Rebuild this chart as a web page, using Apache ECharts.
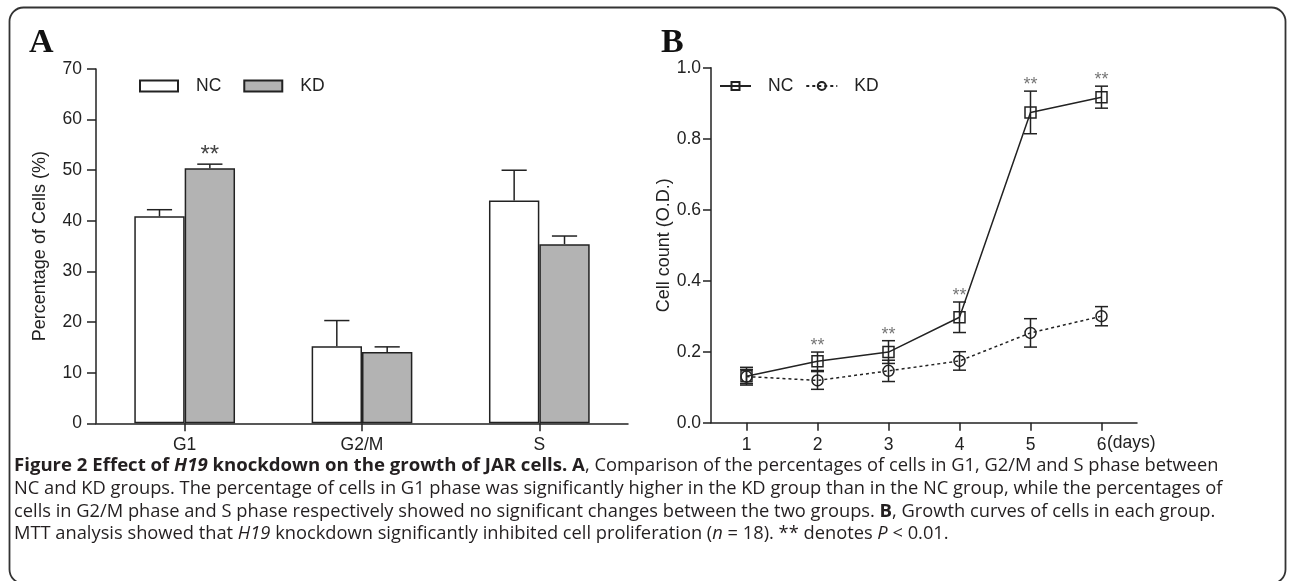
<!DOCTYPE html>
<html><head><meta charset="utf-8">
<script src="https://cdn.jsdelivr.net/npm/echarts@6/dist/echarts.min.js"></script>
<style>html,body{margin:0;padding:0;background:#fff}#c{width:1290px;height:581px}</style>
</head><body><div id="c"></div>
<script>
// ---- Panel A data: cell cycle distribution (%) ----
const phases = ['G1', 'G2/M', 'S'];
const pctNC = [40.9, 15.2, 44.0];
const pctNCErr = [1.3, 5.1, 6.0];
const pctKD = [50.4, 14.1, 35.4];
const pctKDErr = [0.8, 1.0, 1.6];
const pctSigNC = ['', '', ''];
const pctSigKD = ['**', '', ''];

// ---- Panel B data: growth curve (O.D.) ----
const days = ['1', '2', '3', '4', '5', '6'];
const odNC = [0.131, 0.173, 0.199, 0.297, 0.874, 0.917];
const odNCErr = [0.025, 0.026, 0.032, 0.043, 0.060, 0.031];
const odKD = [0.130, 0.119, 0.146, 0.174, 0.253, 0.300];
const odKDErr = [0.020, 0.025, 0.030, 0.026, 0.040, 0.027];
const odSig = ['', '**', '**', '**', '**', '**'];

const INK = '#222';
const AX = 'Liberation Sans, Arial, sans-serif';

const chart = echarts.init(document.getElementById('c'), null, {renderer: 'canvas'});

function errBarA(sign, vals, errs, sig) {
  return {
    type: 'custom', name: 'errA', xAxisIndex: 0, yAxisIndex: 0, z: 5, silent: true,
    data: vals.map((v, i) => [i, v, v + errs[i]]),
    renderItem(params, api) {
      const i = api.value(0);
      const base = api.coord([i, api.value(1)]);
      const top = api.coord([i, api.value(2)]);
      const band = api.size([1, 0])[0];
      const cx = base[0] + sign * band * 0.142;
      const half = band * 0.071;
      const st = {stroke: INK, lineWidth: 1.5};
      const ch = [
        {type: 'line', shape: {x1: cx, y1: base[1], x2: cx, y2: top[1]}, style: st},
        {type: 'line', shape: {x1: cx - half, y1: top[1], x2: cx + half, y2: top[1]}, style: st}
      ];
      const s = sig[params.dataIndex];
      if (s) ch.push({type: 'text', style: {text: s, x: cx, y: top[1] + 3, align: 'center', verticalAlign: 'bottom', fontSize: 24, fontFamily: AX, fill: '#444'}});
      return {type: 'group', children: ch};
    }
  };
}

function errBarB(vals, errs, sig) {
  return {
    type: 'custom', name: 'errB', xAxisIndex: 1, yAxisIndex: 1, z: 5, silent: true,
    data: vals.map((v, i) => [i, v - errs[i], v + errs[i]]),
    renderItem(params, api) {
      const i = api.value(0);
      const lo = api.coord([i, api.value(1)]);
      const hi = api.coord([i, api.value(2)]);
      const cx = lo[0];
      const half = 6.5;
      const st = {stroke: INK, lineWidth: 1.5};
      const ch = [
        {type: 'line', shape: {x1: cx, y1: lo[1], x2: cx, y2: hi[1]}, style: st},
        {type: 'line', shape: {x1: cx - half, y1: hi[1], x2: cx + half, y2: hi[1]}, style: st},
        {type: 'line', shape: {x1: cx - half, y1: lo[1], x2: cx + half, y2: lo[1]}, style: st}
      ];
      const s = sig ? sig[params.dataIndex] : '';
      if (s) ch.push({type: 'text', style: {text: s, x: cx, y: hi[1] + 3, align: 'center', verticalAlign: 'bottom', fontSize: 18, fontFamily: AX, fill: '#777'}});
      return {type: 'group', children: ch};
    }
  };
}

const axisLineSt = {show: true, lineStyle: {color: INK, width: 1.5}};
const tickSt = {show: true, length: 8, lineStyle: {color: INK, width: 1.5}};
const labelSt = {color: INK, fontSize: 17.5, fontFamily: AX};

const CAP = 'Open Sans, Noto Sans, sans-serif';
const CS = 18.3;
const CC = '#231f20';
const capRich = {
  r: {fontFamily: CAP, fontSize: CS, fill: CC},
  b: {fontFamily: CAP, fontSize: CS + 0.3, fontWeight: 'bold', fill: CC},
  bi: {fontFamily: CAP, fontSize: CS + 0.3, fontWeight: 'bold', fontStyle: 'italic', fill: CC},
  i: {fontFamily: CAP, fontSize: CS, fontStyle: 'italic', fill: CC}
};
const capLines = [
  '{b|Figure 2 Effect of }{bi|H19}{b| knockdown on the growth of JAR cells. A}{r|, Comparison of the percentages of cells in G1, G2/M and S phase between}',
  '{r|NC and KD groups. The percentage of cells in G1 phase was significantly higher in the KD group than in the NC group, while the percentages of}',
  '{r|cells in G2/M phase and S phase respectively showed no significant changes between the two groups. }{b|B}{r|, Growth curves of cells in each group.}',
  '{r|MTT analysis showed that }{i|H19}{r| knockdown significantly inhibited cell proliferation (}{i|n}{r| = 18). ** denotes }{i|P}{r| < 0.01.}'
];
const capY = [466, 489, 511.5, 534];

const SERIF = 'Liberation Serif, Times New Roman, serif';
const graphics = [
  {type: 'rect', shape: {x: 9.5, y: 7.5, width: 1276, height: 576, r: 14}, style: {fill: 'none', stroke: '#333', lineWidth: 1.8}, z: 0},
  {type: 'text', style: {text: 'A', x: 29, y: 60, verticalAlign: 'bottom', fontFamily: SERIF, fontWeight: 'bold', fontSize: 34, fill: '#111'}},
  {type: 'text', style: {text: 'B', x: 661, y: 60, verticalAlign: 'bottom', fontFamily: SERIF, fontWeight: 'bold', fontSize: 34, fill: '#111'}}
].concat(capLines.map((t, k) => ({type: 'text', style: {text: t, x: 14, y: capY[k], verticalAlign: 'middle', rich: capRich, fontFamily: CAP, fontSize: CS}})));

chart.setOption({
  animation: false,
  backgroundColor: '#fff',
  grid: [
    {left: 96, top: 69, width: 532, height: 354.3},
    {left: 711, top: 67.7, width: 426, height: 355}
  ],
  legend: [
    {data: ['NC', 'KD'], left: 134, top: 72, itemWidth: 38, itemHeight: 11, itemGap: 22, icon: 'rect',
     textStyle: {color: INK, fontSize: 17.5, fontFamily: AX, padding: [0, 0, 0, 13]}, selectedMode: false},
    {data: ['NC-B', 'KD-B'], left: 714, top: 72, itemWidth: 31, itemHeight: 10, itemGap: 12,
     formatter: n => n.replace('-B', ''),
     textStyle: {color: INK, fontSize: 17.5, fontFamily: AX, padding: [0, 0, 0, 12]}, selectedMode: false}
  ],
  xAxis: [
    {type: 'category', gridIndex: 0, data: phases, axisLine: axisLineSt,
     axisTick: Object.assign({alignWithLabel: true}, tickSt), axisLabel: Object.assign({margin: 13}, labelSt)},
    {type: 'category', gridIndex: 1, data: days, axisLine: axisLineSt,
     axisTick: Object.assign({alignWithLabel: true}, tickSt), axisLabel: Object.assign({margin: 13}, labelSt),
     name: '(days)', nameLocation: 'end', nameGap: -30, nameMoveOverlap: false,
     nameTextStyle: {color: INK, fontSize: 17.5, fontFamily: AX, verticalAlign: 'top', padding: [11, 0, 0, 0]}}
  ],
  yAxis: [
    {type: 'value', gridIndex: 0, min: 0, max: 70, interval: 10, splitLine: {show: false},
     axisLine: axisLineSt, axisTick: Object.assign({}, tickSt, {length: 9}), axisLabel: Object.assign({margin: 14}, labelSt),
     name: 'Percentage of Cells (%)', nameLocation: 'middle', nameGap: 47,
     nameTextStyle: {color: INK, fontSize: 18, fontFamily: AX}},
    {type: 'value', gridIndex: 1, min: 0, max: 1, interval: 0.2, splitLine: {show: false},
     axisLine: axisLineSt, axisTick: tickSt, axisLabel: Object.assign({margin: 10, formatter: v => v.toFixed(1)}, labelSt),
     name: 'Cell count (O.D.)', nameLocation: 'middle', nameGap: 33,
     nameTextStyle: {color: INK, fontSize: 18, fontFamily: AX}}
  ],
  series: [
    {type: 'bar', name: 'NC', xAxisIndex: 0, yAxisIndex: 0, data: pctNC, barWidth: '28.4%', barGap: '0%',
     itemStyle: {color: '#ffffff', borderColor: INK, borderWidth: 1.5}},
    {type: 'bar', name: 'KD', xAxisIndex: 0, yAxisIndex: 0, data: pctKD, barWidth: '28.4%', barGap: '0%',
     itemStyle: {color: '#b3b3b3', borderColor: INK, borderWidth: 1.5}},
    errBarA(-1, pctNC, pctNCErr, pctSigNC),
    errBarA(1, pctKD, pctKDErr, pctSigKD),
    {type: 'line', name: 'NC-B', xAxisIndex: 1, yAxisIndex: 1, data: odNC, symbol: 'rect', symbolSize: 11,
     showAllSymbol: true, z: 4,
     lineStyle: {color: INK, width: 1.5}, itemStyle: {color: 'rgba(255,255,255,0)', borderColor: INK, borderWidth: 1.5}},
    {type: 'line', name: 'KD-B', xAxisIndex: 1, yAxisIndex: 1, data: odKD, symbol: 'circle', symbolSize: 11,
     showAllSymbol: true, z: 4,
     lineStyle: {color: INK, width: 1.5, type: [3, 3]}, itemStyle: {color: 'rgba(255,255,255,0)', borderColor: INK, borderWidth: 1.5}},
    errBarB(odNC, odNCErr, odSig),
    errBarB(odKD, odKDErr, null)
  ],
  graphic: graphics
});
</script></body></html>
